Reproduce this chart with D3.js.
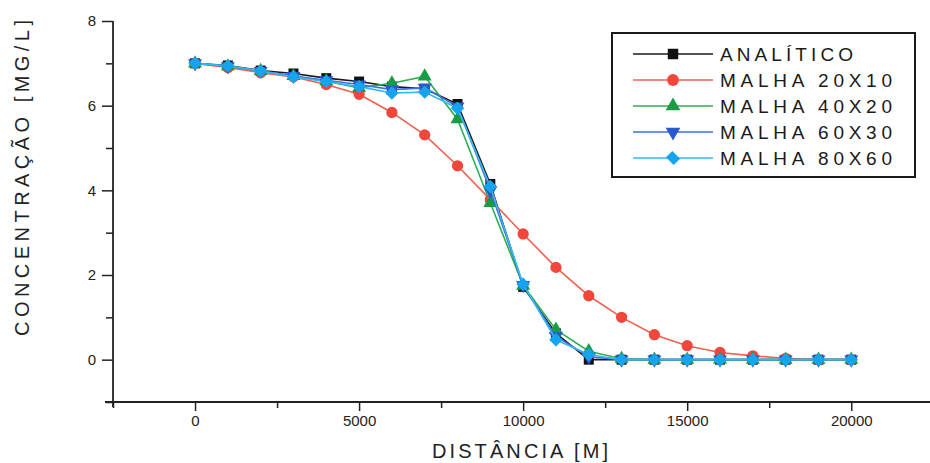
<!DOCTYPE html>
<html>
<head>
<meta charset="utf-8">
<script src="https://cdn.jsdelivr.net/npm/d3@7"></script>
<style>
  body { margin: 0; background: #fff; }
  svg { display: block; }
  .tick text { font-family: "Liberation Sans", Arial, sans-serif; fill: #222; }
</style>
</head>
<body>
<div class="canvas"></div>
<script>
// data
const distance = [0, 1000, 2000, 3000, 4000, 5000, 6000, 7000, 8000, 9000, 10000,
  11000, 12000, 13000, 14000, 15000, 16000, 17000, 18000, 19000, 20000];
const analitico = [7.0, 6.95, 6.83, 6.76, 6.65, 6.57, 6.45, 6.40, 6.04, 4.15, 1.72,
  0.62, 0.0, 0, 0, 0, 0, 0, 0, 0, 0];
const malha20x10 = [7.0, 6.9, 6.78, 6.68, 6.5, 6.27, 5.84, 5.31, 4.58, 3.78, 2.97,
  2.18, 1.51, 1.0, 0.59, 0.33, 0.17, 0.09, 0.03, 0, 0];
const malha40x20 = [7.0, 6.93, 6.82, 6.7, 6.58, 6.42, 6.53, 6.69, 5.68, 3.7, 1.75,
  0.71, 0.2, 0.02, 0, 0, 0, 0, 0, 0, 0];
const malha60x30 = [7.0, 6.93, 6.82, 6.7, 6.6, 6.5, 6.38, 6.42, 5.98, 4.0, 1.76,
  0.55, 0.07, 0, 0, 0, 0, 0, 0, 0, 0];
const malha80x60 = [7.0, 6.94, 6.82, 6.68, 6.57, 6.45, 6.3, 6.32, 5.94, 4.09, 1.78,
  0.47, 0.12, 0, 0, 0, 0, 0, 0, 0, 0];
const seriesNames = ["ANALÍTICO", "MALHA 20X10", "MALHA 40X20", "MALHA 60X30", "MALHA 80X60"];
const xMajorTicks = [0, 5000, 10000, 15000, 20000];
const xMinorTicks = [-2500, 2500, 7500, 12500, 17500];
const yMajorTicks = [0, 2, 4, 6, 8];
const yMinorTicks = [-1, 1, 3, 5, 7];

// dimensions
const w = 930;
const h = 463;
const margin = { top: 21, right: 0, bottom: 61, left: 113 };

const svg = d3.select(".canvas").append("svg").attr("width", w).attr("height", h);

// scales
const x = d3.scaleLinear().domain([-2500, 22400]).range([margin.left, w - margin.right]);
const y = d3.scaleLinear().domain([-1, 8]).range([h - margin.bottom, margin.top]);

// series styles
const styles = [
  { data: analitico, line: "#1a1a1a", fill: "#111", symbol: d3.symbolSquare, size: 100, rotate: 0 },
  { data: malha20x10, line: "#f2604e", fill: "#f0463c", symbol: d3.symbolCircle, size: 100, rotate: 0 },
  { data: malha40x20, line: "#2bb055", fill: "#1a9c45", symbol: d3.symbolTriangle, size: 85, rotate: 0 },
  { data: malha60x30, line: "#3d6fe0", fill: "#2a58cf", symbol: d3.symbolTriangle, size: 85, rotate: 180 },
  { data: malha80x60, line: "#35b8f0", fill: "#17a4ee", symbol: d3.symbolSquare, size: 75, rotate: 45 },
];

// axes
const axisColor = "#222";
const xAxis = svg.append("g").attr("transform", `translate(0, ${y(-1)})`);
xAxis.call(d3.axisBottom(x).tickValues(xMajorTicks).tickFormat(d3.format("d")).tickSize(9).tickPadding(4).tickSizeOuter(0));
xAxis.append("g").call(d3.axisBottom(x).tickValues(xMinorTicks).tickSize(6).tickFormat(""));
xAxis.selectAll("text").style("font-size", "15px");

const yAxis = svg.append("g").attr("transform", `translate(${x(-2500)}, 0)`);
yAxis.call(d3.axisLeft(y).tickValues(yMajorTicks).tickFormat(d3.format("d")).tickSize(11).tickPadding(6).tickSizeOuter(0));
yAxis.append("g").call(d3.axisLeft(y).tickValues(yMinorTicks).tickSize(7).tickFormat(""));
yAxis.selectAll("text").style("font-size", "15px");

svg.selectAll(".domain").remove();
svg.selectAll(".tick line").attr("stroke", axisColor).attr("stroke-width", 1.5);

// axis lines (run a little past the corner like the original)
svg.append("line")
  .attr("x1", x(-2500) - 8).attr("x2", x.range()[1])
  .attr("y1", y(-1)).attr("y2", y(-1))
  .attr("stroke", axisColor).attr("stroke-width", 1.8);
svg.append("line")
  .attr("x1", x(-2500)).attr("x2", x(-2500))
  .attr("y1", y(8)).attr("y2", y(-1) + 5)
  .attr("stroke", axisColor).attr("stroke-width", 1.8);

// axis titles
svg.append("text")
  .attr("x", 520).attr("y", 458)
  .attr("text-anchor", "middle")
  .attr("textLength", 176).attr("lengthAdjust", "spacing")
  .style("font-family", "Liberation Sans, sans-serif")
  .style("font-size", "20px").style("fill", "#222")
  .text("DISTÂNCIA [M]");

svg.append("text")
  .attr("transform", `translate(29, ${178}) rotate(-90)`)
  .attr("text-anchor", "middle")
  .attr("textLength", 316).attr("lengthAdjust", "spacing")
  .style("font-family", "Liberation Sans, sans-serif")
  .style("font-size", "20px").style("fill", "#222")
  .text("CONCENTRAÇÃO [MG/L]");

// lines and markers
const line = d3.line().x((d, i) => x(distance[i])).y((d) => y(d));
styles.forEach((s) => {
  const g = svg.append("g");
  g.append("path")
    .datum(s.data)
    .attr("fill", "none")
    .attr("stroke", s.line)
    .attr("stroke-width", 1.6)
    .attr("d", line);
  g.selectAll("path.marker")
    .data(s.data)
    .enter()
    .append("path")
    .attr("class", "marker")
    .attr("d", d3.symbol().type(s.symbol).size(s.size))
    .attr("transform", (d, i) => `translate(${x(distance[i])}, ${y(d)}) rotate(${s.rotate})` + (s.rotate === 45 ? " scale(1.1, 1.1)" : ""))
    .attr("fill", s.fill);
});

// legend
const legend = svg.append("g").attr("transform", "translate(612, 33)");
legend.append("rect")
  .attr("width", 303).attr("height", 144)
  .attr("fill", "#fff").attr("stroke", "#1a1a1a").attr("stroke-width", 2);
const rows = legend.selectAll("g.row")
  .data(styles)
  .enter()
  .append("g")
  .attr("class", "row")
  .attr("transform", (d, i) => `translate(0, ${21 + i * 26})`);
rows.append("line")
  .attr("x1", 21).attr("x2", 101)
  .attr("stroke", (d) => d.line).attr("stroke-width", 1.6);
rows.append("path")
  .attr("d", (d) => d3.symbol().type(d.symbol).size(d.size * 1.1)())
  .attr("transform", (d) => `translate(61, 0) rotate(${d.rotate})` + (d.rotate === 45 ? " scale(1.2, 1.0)" : ""))
  .attr("fill", (d) => d.fill);
rows.append("text")
  .attr("x", 108).attr("y", 7)
  .attr("textLength", (d, i) => (i === 0 ? 133 : 172)).attr("lengthAdjust", "spacing")
  .style("font-family", "Liberation Sans, sans-serif")
  .style("font-size", "19px").style("fill", "#1a1a1a")
  .text((d, i) => seriesNames[i]);
</script>
</body>
</html>
